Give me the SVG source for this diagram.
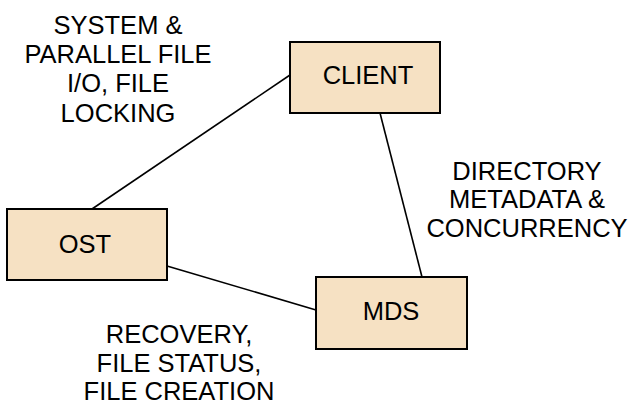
<svg xmlns="http://www.w3.org/2000/svg" width="635" height="404" viewBox="0 0 635 404">
<style>
.box{fill:#F6E1C3;stroke:#000;stroke-width:2}
.t{font-family:"Liberation Sans",Arial,sans-serif;font-size:25.5px;fill:#000;text-anchor:middle}
.c{stroke:#000;stroke-width:1.6;fill:none}
</style>
<rect width="635" height="404" fill="#fff"/>
<g id="connectors">
<line class="c" x1="290" y1="75" x2="92" y2="209"/>
<line class="c" x1="380" y1="113" x2="422" y2="277"/>
<line class="c" x1="167" y1="266" x2="316" y2="310"/>
</g>
<g id="client">
<rect class="box" x="290" y="42" width="150" height="71"/>
<text class="t" x="368" y="84">CLIENT</text>
</g>
<g id="ost">
<rect class="box" x="7" y="209" width="160" height="71"/>
<text class="t" x="85" y="253">OST</text>
</g>
<g id="mds">
<rect class="box" x="316" y="277" width="151" height="72"/>
<text class="t" x="391" y="320">MDS</text>
</g>
<g id="labels">
<text class="t" x="118" y="34">SYSTEM &amp;</text>
<text class="t" x="118" y="63">PARALLEL FILE</text>
<text class="t" x="118" y="92">I/O, FILE</text>
<text class="t" x="118" y="122">LOCKING</text>
<text class="t" x="527" y="180">DIRECTORY</text>
<text class="t" x="527" y="208">METADATA &amp;</text>
<text class="t" x="527" y="237">CONCURRENCY</text>
<text class="t" x="179" y="343">RECOVERY,</text>
<text class="t" x="179" y="372">FILE STATUS,</text>
<text class="t" x="179" y="400">FILE CREATION</text>
</g>
</svg>
